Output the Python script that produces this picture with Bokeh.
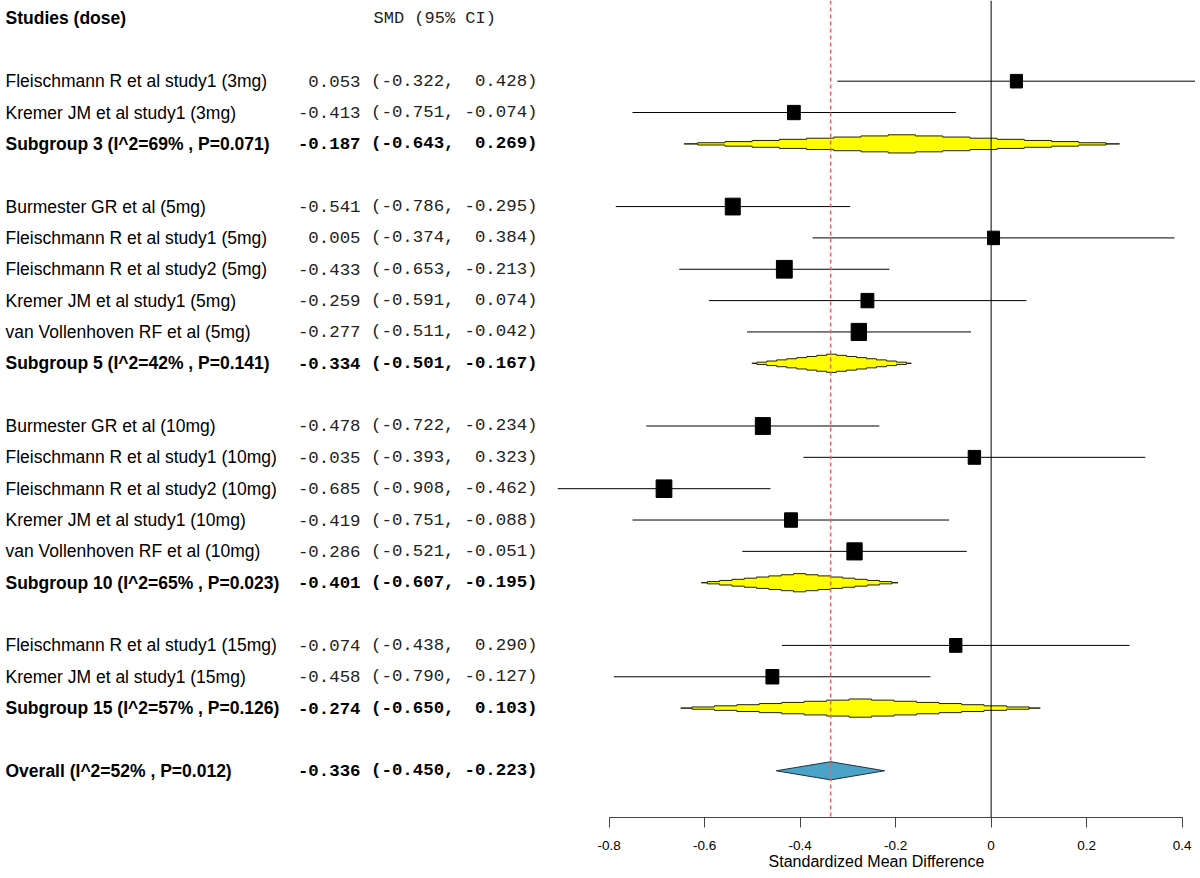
import numpy as np
from bokeh.plotting import figure
from bokeh.layouts import row
from bokeh.models import (ColumnDataSource, Range1d, Span, FixedTicker,
                          CustomJSTickFormatter, LinearAxis)
from bokeh.core.properties import value
from bokeh.embed import file_html
from bokeh.resources import INLINE

# ---------------- data ----------------
groups = ["3", "5", "10", "15"]

study_names = [
    "Fleischmann R et al study1 (3mg)",
    "Kremer JM et al study1 (3mg)",
    "Burmester GR et al (5mg)",
    "Fleischmann R et al study1 (5mg)",
    "Fleischmann R et al study2 (5mg)",
    "Kremer JM et al study1 (5mg)",
    "van Vollenhoven RF et al (5mg)",
    "Burmester GR et al (10mg)",
    "Fleischmann R et al study1 (10mg)",
    "Fleischmann R et al study2 (10mg)",
    "Kremer JM et al study1 (10mg)",
    "van Vollenhoven RF et al (10mg)",
    "Fleischmann R et al study1 (15mg)",
    "Kremer JM et al study1 (15mg)",
]
study_group = ["3", "3", "5", "5", "5", "5", "5",
               "10", "10", "10", "10", "10", "15", "15"]
study_smd = [0.053, -0.413, -0.541, 0.005, -0.433, -0.259, -0.277,
             -0.478, -0.035, -0.685, -0.419, -0.286, -0.074, -0.458]
study_lo = [-0.322, -0.751, -0.786, -0.374, -0.653, -0.591, -0.511,
            -0.722, -0.393, -0.908, -0.751, -0.521, -0.438, -0.790]
study_hi = [0.428, -0.074, -0.295, 0.384, -0.213, 0.074, -0.042,
            -0.234, 0.323, -0.462, -0.088, -0.051, 0.290, -0.127]

sub_labels = ["Subgroup 3 (I^2=69% , P=0.071)",
              "Subgroup 5 (I^2=42% , P=0.141)",
              "Subgroup 10 (I^2=65% , P=0.023)",
              "Subgroup 15 (I^2=57% , P=0.126)"]
sub_smd = [-0.187, -0.334, -0.401, -0.274]
sub_lo = [-0.643, -0.501, -0.607, -0.650]
sub_hi = [0.269, -0.167, -0.195, 0.103]

overall_label = "Overall (I^2=52% , P=0.012)"
overall_smd = -0.336
overall_lo = -0.450
overall_hi = -0.223

header_left = "Studies (dose)"
header_right = "SMD (95% CI)"
x_ticks = [-0.8, -0.6, -0.4, -0.2, 0.0, 0.2, 0.4]
x_title = "Standardized Mean Difference"

# ---------------- layout of rows ----------------
s_rows, g_rows = [], []
r = 2
for g in groups:
    for sg in study_group:
        if sg == g:
            s_rows.append(r)
            r += 1
    g_rows.append(r)
    r += 2
o_row = r

SANS = "Liberation Sans"
LABEL_FONT = value(SANS)
MONO_FONT = value("Liberation Mono")
FH = 817          # frame height in px
LW = 557          # left panel width
RW = 638          # right panel width
y_range = Range1d(25.49, -0.574)

# ---------------- left panel (text table) ----------------
left = figure(frame_width=LW, frame_height=FH, x_range=Range1d(0, LW),
              y_range=y_range, output_backend="svg", toolbar_location=None,
              min_border=0, x_axis_location=None, y_axis_location=None)
left.outline_line_color = None
left.xgrid.visible = False
left.ygrid.visible = False

LBL_X = 5
EST_X = 360
LO_X = 454
HI_X = 537
NUM_SIZE = "17.4px"
LBL_SIZE = "17.5px"

left.text(x=[LBL_X], y=[0], text=[header_left], text_font=LABEL_FONT,
          text_font_size=LBL_SIZE, text_font_style="bold",
          text_baseline="middle", text_align="left", text_color="black")
left.text(x=[373], y=[0], text=[header_right], text_font=MONO_FONT,
          text_font_size="17px", text_baseline="middle", text_align="left",
          text_color="#222222")


def num_cols(e, l, h):
    return ["%.3f" % e, "(%.3f," % l, "%.3f)" % h]


def add_rows(rows, names, est, lo, hi, style, color):
    cols = [num_cols(a, b, c) for a, b, c in zip(est, lo, hi)]
    src = ColumnDataSource(dict(
        y=rows, name=names,
        e=[c[0] for c in cols], l=[c[1] for c in cols], h=[c[2] for c in cols]))
    left.text(x=LBL_X, y="y", text="name", source=src, text_font=LABEL_FONT,
              text_font_size=LBL_SIZE, text_font_style=style,
              text_baseline="middle", text_align="left", text_color="black")
    for xx, col in ((EST_X, "e"), (LO_X, "l"), (HI_X, "h")):
        left.text(x=xx, y="y", text=col, source=src, text_font=MONO_FONT,
                  text_font_size=NUM_SIZE, text_font_style=style,
                  text_baseline="middle", text_align="right", text_color=color)


add_rows(s_rows, study_names, study_smd, study_lo, study_hi, "normal", "#222222")
add_rows(g_rows + [o_row], sub_labels + [overall_label],
         sub_smd + [overall_smd], sub_lo + [overall_lo], sub_hi + [overall_hi],
         "bold", "black")

# ---------------- right panel (forest) ----------------
xmin = min(study_lo + sub_lo + [overall_lo])
xmax = max(study_hi + sub_hi + [overall_hi])
right = figure(frame_width=RW, frame_height=FH, x_range=Range1d(xmin, xmax),
               y_range=y_range, output_backend="svg", toolbar_location=None,
               min_border=0, y_axis_location=None, x_axis_location=None)
right.outline_line_color = None
right.xgrid.visible = False
right.ygrid.visible = False

ax = LinearAxis(ticker=FixedTicker(ticks=x_ticks), bounds=(x_ticks[0], x_ticks[-1]))
ax.formatter = CustomJSTickFormatter(
    code="return Math.abs(tick) < 1e-9 ? '0' : tick.toFixed(1);")
ax.axis_line_color = "#444444"
ax.major_tick_line_color = "#444444"
ax.major_tick_out = 10
ax.major_tick_in = 0
ax.minor_tick_out = 0
ax.minor_tick_in = 0
ax.major_label_standoff = 13
ax.major_label_text_font = SANS
ax.major_label_text_font_size = "13.5px"
ax.major_label_text_color = "black"
ax.axis_label = x_title
ax.axis_label_text_font = SANS
ax.axis_label_text_font_size = "16px"
ax.axis_label_text_font_style = "normal"
ax.axis_label_text_color = "black"
ax.axis_label_standoff = 0
right.add_layout(ax, "below")

right.add_layout(Span(location=0, dimension="height", line_color="black",
                      line_width=1))
right.add_layout(Span(location=overall_smd, dimension="height",
                      line_color="#E2666C", line_width=1.5, line_dash="4 3"))

# CI lines
right.segment(x0=study_lo, x1=study_hi, y0=s_rows, y1=s_rows,
              line_color="black", line_width=1)

# squares sized from inverse standard error
se = [(h - l) / (2 * 1.96) for l, h in zip(study_lo, study_hi)]
sz = [5.3 * np.sqrt(1.0 / s) for s in se]
right.rect(x=study_smd, y=s_rows, width=sz, height=[1.12 * s for s in sz],
           width_units="screen", height_units="screen",
           fill_color="black", line_color="black")

# stepped subgroup diamonds
H = 0.58  # diamond full height in row units


def stepped(lo, est, hi, y, n=8):
    wl = (est - lo) / n
    wr = (hi - est) / n
    segs = []
    for k in range(n):
        segs.append((max(lo, lo + (k - 0.5) * wl), lo + (k + 0.5) * wl, k / n * H / 2))
    segs.append((est - wl / 2, est + wr / 2, H / 2))
    for k in range(n - 1, -1, -1):
        segs.append((hi - (k + 0.5) * wr, min(hi, hi - (k - 0.5) * wr), k / n * H / 2))
    xs, ys = [], []
    for x0, x1, h in segs:
        xs += [x0, x1]
        ys += [y - h, y - h]
    for x0, x1, h in reversed(segs):
        xs += [x1, x0]
        ys += [y + h, y + h]
    return xs, ys


dxs, dys = [], []
for e, l, h, yr in zip(sub_smd, sub_lo, sub_hi, g_rows):
    xs, ys = stepped(l, e, h, yr)
    dxs.append(xs)
    dys.append(ys)
right.patches(xs=dxs, ys=dys, fill_color="#FFFF00", line_color="#222200",
              line_width=1)

# overall diamond
right.patch(x=[overall_lo, overall_smd, overall_hi, overall_smd],
            y=[o_row, o_row - H / 2, o_row, o_row + H / 2],
            fill_color="#4BA3C7", line_color="#1b3440", line_width=1)

layout = row(left, right, spacing=0)
open("out.html", "w").write(file_html(layout, INLINE))
